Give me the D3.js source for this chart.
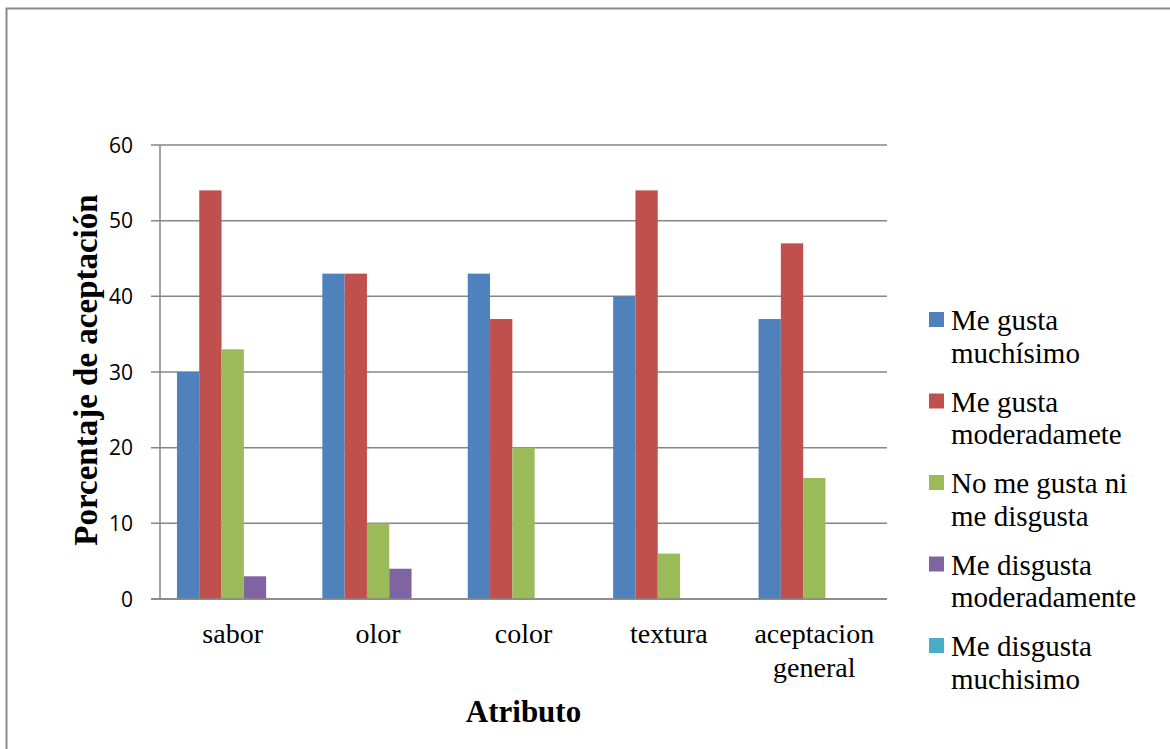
<!DOCTYPE html>
<html>
<head>
<meta charset="utf-8">
<script src="https://cdn.jsdelivr.net/npm/d3@7"></script>
<style>
  body { margin: 0; background: #fff; }
  svg { display: block; }
  .serif { font-family: "Liberation Serif", "Times New Roman", serif; }
</style>
</head>
<body>
<div id="chart"></div>
<script>
// data
const categories = ["sabor", "olor", "color", "textura", "aceptacion general"];
const seriesNames = [
  "Me gusta muchísimo",
  "Me gusta moderadamete",
  "No me gusta ni me disgusta",
  "Me disgusta moderadamente",
  "Me disgusta muchisimo"
];
const legendLines = [
  ["Me gusta", "muchísimo"],
  ["Me gusta", "moderadamete"],
  ["No me gusta ni", "me disgusta"],
  ["Me disgusta", "moderadamente"],
  ["Me disgusta", "muchisimo"]
];
const meGustaMuchisimo = [30, 43, 43, 40, 37];
const meGustaModerada = [54, 43, 37, 54, 47];
const niGustaNiDisgusta = [33, 10, 20, 6, 16];
const disgustaModerada = [3, 4, 0, 0, 0];
const disgustaMuchisimo = [0, 0, 0, 0, 0];
const yTicks = [0, 10, 20, 30, 40, 50, 60];
const colors = ["#4F81BD", "#C0504D", "#9BBB59", "#8064A2", "#4BACC6"];

const seriesValues = [meGustaMuchisimo, meGustaModerada, niGustaNiDisgusta, disgustaModerada, disgustaMuchisimo];

const W = 1170, H = 749;
const plot = {left: 160, right: 887, top: 145, bottom: 599};

const svg = d3.select("#chart").append("svg")
  .attr("width", W)
  .attr("height", H);

// outer frame
svg.append("rect")
  .attr("x", 6.5).attr("y", 8.5)
  .attr("width", 1200).attr("height", 800)
  .attr("fill", "#fff")
  .attr("stroke", "#8a8a8a")
  .attr("stroke-width", 2);

const x0 = d3.scaleBand()
  .domain(categories)
  .range([plot.left, plot.right])
  .padding(0);

// Excel style gap width of 150%
const x1 = d3.scaleBand()
  .domain(d3.range(seriesNames.length))
  .range([0, x0.bandwidth()])
  .paddingInner(0)
  .paddingOuter(0.76);

const y = d3.scaleLinear()
  .domain([0, 60])
  .range([plot.bottom, plot.top]);

// gridlines
svg.append("g")
  .selectAll("line")
  .data(yTicks)
  .join("line")
  .attr("x1", plot.left - 9)
  .attr("x2", plot.right)
  .attr("y1", d => y(d))
  .attr("y2", d => y(d))
  .attr("stroke", "#868686")
  .attr("stroke-width", 1.5);

// vertical axis line
svg.append("line")
  .attr("x1", plot.left).attr("x2", plot.left)
  .attr("y1", plot.top).attr("y2", plot.bottom)
  .attr("stroke", "#868686")
  .attr("stroke-width", 1.5);

// y tick labels
svg.append("g")
  .selectAll("text")
  .data(yTicks)
  .join("text")
  .attr("x", 133)
  .attr("y", d => y(d))
  .attr("dy", "0.36em")
  .attr("text-anchor", "end")
  .attr("font-family", "'Open Sans', 'Liberation Sans', sans-serif")
  .attr("font-size", 21)
  .attr("fill", "#000")
  .text(d => d);

// bars
const groups = svg.append("g")
  .selectAll("g")
  .data(categories)
  .join("g")
  .attr("transform", d => `translate(${x0(d)},0)`);

groups.selectAll("rect")
  .data((d, i) => seriesValues.map((vals, s) => ({s: s, v: vals[i]})))
  .join("rect")
  .attr("x", d => x1(d.s))
  .attr("y", d => y(d.v))
  .attr("width", x1.bandwidth())
  .attr("height", d => y(0) - y(d.v))
  .attr("fill", d => colors[d.s]);

// redraw bottom axis on top of bars
svg.append("line")
  .attr("x1", plot.left - 9).attr("x2", plot.right)
  .attr("y1", plot.bottom).attr("y2", plot.bottom)
  .attr("stroke", "#868686")
  .attr("stroke-width", 1.5);

// category labels
const catLabels = svg.append("g")
  .selectAll("text")
  .data(categories)
  .join("text")
  .attr("class", "serif")
  .attr("x", d => x0(d) + x0.bandwidth() / 2)
  .attr("y", 643)
  .attr("text-anchor", "middle")
  .attr("font-size", 28)
  .attr("fill", "#000");

catLabels.each(function(d) {
  const words = d === "aceptacion general" ? ["aceptacion", "general"] : [d];
  const t = d3.select(this);
  words.forEach((w, i) => {
    t.append("tspan")
      .attr("x", x0(d) + x0.bandwidth() / 2)
      .attr("dy", i === 0 ? 0 : 34)
      .text(w);
  });
});

// axis titles
svg.append("text")
  .attr("class", "serif")
  .attr("x", (plot.left + plot.right) / 2)
  .attr("y", 722)
  .attr("text-anchor", "middle")
  .attr("font-weight", "bold")
  .attr("font-size", 31)
  .text("Atributo");

svg.append("text")
  .attr("class", "serif")
  .attr("transform", `translate(97,${(plot.top + plot.bottom) / 2 - 2}) rotate(-90)`)
  .attr("text-anchor", "middle")
  .attr("font-weight", "bold")
  .attr("font-size", 33)
  .text("Porcentaje de aceptación");

// legend
const legend = svg.append("g")
  .selectAll("g")
  .data(seriesNames)
  .join("g")
  .attr("transform", (d, i) => `translate(929,${330 + i * 81.5})`);

legend.append("rect")
  .attr("x", 0)
  .attr("y", -18)
  .attr("width", 15)
  .attr("height", 15)
  .attr("fill", (d, i) => colors[i]);

legend.append("text")
  .attr("class", "serif")
  .attr("font-size", 29)
  .attr("fill", "#000")
  .selectAll("tspan")
  .data((d, i) => legendLines[i])
  .join("tspan")
  .attr("x", 22)
  .attr("y", (d, j) => j * 32.5)
  .text(d => d);
</script>
</body>
</html>
